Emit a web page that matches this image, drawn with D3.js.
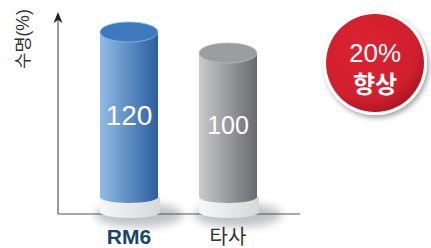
<!DOCTYPE html>
<html>
<head>
<meta charset="utf-8">
<script src="https://cdn.jsdelivr.net/npm/d3@7"></script>
<style>
  body { margin: 0; background: #fff; }
  svg { display: block; }
  text { font-family: "Liberation Sans", "Noto Sans CJK KR", sans-serif; }
</style>
</head>
<body>
<div id="chart"></div>
<script>
// chart values
const categories = ["RM6", "타사"];
const values = [120, 100];
const yLabel = "수명(%)";
const badgeLines = ["20%", "향상"];

const W = 431, H = 248;
const axisX = 58, axisY = 214, axisTop = 12, axisRight = 300;
const baseTop = 197;        // where the cylinder bodies end
const rx = 29, ryTop = 10, ryBase = 6;

const svg = d3.select("#chart").append("svg")
    .attr("width", W)
    .attr("height", H);

const defs = svg.append("defs");

// gradients for the cylinder sides
function sideGrad(id, c0, c1) {
  const g = defs.append("linearGradient").attr("id", id)
      .attr("x1", "0%").attr("x2", "100%");
  g.append("stop").attr("offset", "0%").attr("stop-color", c0);
  g.append("stop").attr("offset", "100%").attr("stop-color", c1);
}
sideGrad("blueSide", "#8fbbe4", "#2c5e9f");
sideGrad("graySide", "#c9cacc", "#686a6d");
sideGrad("baseSide", "#f6f7f8", "#d6d8da");

const shadow = defs.append("filter").attr("id", "blur")
    .attr("x", "-50%").attr("y", "-50%").attr("width", "200%").attr("height", "200%");
shadow.append("feGaussianBlur").attr("stdDeviation", 4);

const badgeShadow = defs.append("filter").attr("id", "badgeShadow")
    .attr("x", "-30%").attr("y", "-30%").attr("width", "160%").attr("height", "160%");
badgeShadow.append("feDropShadow")
    .attr("dx", 2).attr("dy", 3).attr("stdDeviation", 2.5)
    .attr("flood-color", "#000").attr("flood-opacity", 0.35);

const redGrad = defs.append("radialGradient").attr("id", "redFill")
    .attr("cx", "40%").attr("cy", "35%").attr("r", "70%");
redGrad.append("stop").attr("offset", "0%").attr("stop-color", "#dc2331");
redGrad.append("stop").attr("offset", "75%").attr("stop-color", "#d01f2d");
redGrad.append("stop").attr("offset", "100%").attr("stop-color", "#a8141f");

// scales
const x = d3.scalePoint().domain(categories).range([129, 228]);
const y = d3.scaleLinear().domain([0, 120]).range([158, 32]);

const sideColors = ["url(#blueSide)", "url(#graySide)"];
const topColors = ["#3e78bd", "#9c9da0"];
const rimColors = ["#7fc0ee", "#b9babc"];
const catColors = ["#1b4566", "#333333"];
const catWeights = ["bold", "normal"];
const catSizes = [21, 20];
const labelSizes = [28, 25];

// shadows under the bases
svg.selectAll(".shadow")
    .data(categories)
  .enter().append("ellipse")
    .attr("class", "shadow")
    .attr("cx", d => x(d) + 10)
    .attr("cy", axisY + 1)
    .attr("rx", 44)
    .attr("ry", 12)
    .attr("fill", "#b3b4b6")
    .attr("opacity", 0.8)
    .attr("filter", "url(#blur)");

// axes
svg.append("line")
    .attr("x1", axisX).attr("y1", axisY)
    .attr("x2", axisRight).attr("y2", axisY)
    .attr("stroke", "#555").attr("stroke-width", 1.2);

svg.append("line")
    .attr("x1", axisX).attr("y1", axisY)
    .attr("x2", axisX).attr("y2", axisTop + 6)
    .attr("stroke", "#555").attr("stroke-width", 1.2);

svg.append("path")
    .attr("d", `M${axisX},${axisTop} L${axisX + 4.5},${axisTop + 11} L${axisX},${axisTop + 8} L${axisX - 4.5},${axisTop + 11} Z`)
    .attr("fill", "#222");

svg.append("text")
    .attr("transform", `translate(29,${axisTop + 27}) rotate(-90)`)
    .attr("text-anchor", "middle")
    .attr("font-family", "Noto Sans CJK KR")
    .attr("font-size", 17.5)
    .attr("fill", "#333")
    .text(yLabel);

// cylinders
const bars = svg.selectAll(".bar")
    .data(categories)
  .enter().append("g")
    .attr("class", "bar");

// white base
bars.append("path")
    .attr("d", d => {
      const cx = x(d) + 1, r = rx + 1, b = baseTop + 15;
      return `M${cx - r},${baseTop} L${cx - r},${b} A${r},${ryBase} 0 0 0 ${cx + r},${b} L${cx + r},${baseTop} Z`;
    })
    .attr("fill", "url(#baseSide)");

// body
bars.append("path")
    .attr("d", (d, i) => {
      const cx = x(d), t = y(values[i]);
      return `M${cx - rx},${t} L${cx - rx},${baseTop} A${rx},${ryBase} 0 0 0 ${cx + rx},${baseTop} L${cx + rx},${t} Z`;
    })
    .attr("fill", (d, i) => sideColors[i]);

// top face
bars.append("ellipse")
    .attr("cx", d => x(d))
    .attr("cy", (d, i) => y(values[i]))
    .attr("rx", rx)
    .attr("ry", ryTop)
    .attr("fill", (d, i) => topColors[i])
    .attr("stroke", (d, i) => rimColors[i])
    .attr("stroke-width", 0.8);

// values inside
bars.append("text")
    .attr("x", d => x(d))
    .attr("y", (d, i) => (y(values[i]) + baseTop) / 2)
    .attr("dy", "0.36em")
    .attr("text-anchor", "middle")
    .attr("font-size", (d, i) => labelSizes[i])
    .attr("fill", "#fff")
    .text((d, i) => values[i]);

// category labels
bars.append("text")
    .attr("x", d => x(d))
    .attr("y", 244)
    .attr("text-anchor", "middle")
    .attr("font-size", (d, i) => catSizes[i])
    .attr("font-weight", (d, i) => catWeights[i])
    .attr("fill", (d, i) => catColors[i])
    .text(d => d);

// badge
const badge = svg.append("g").attr("transform", "translate(375,63)");
badge.append("circle")
    .attr("r", 52)
    .attr("fill", "#fff")
    .attr("filter", "url(#badgeShadow)");
badge.append("circle")
    .attr("r", 49)
    .attr("fill", "url(#redFill)");
badge.selectAll(".badge-text")
    .data(badgeLines)
  .enter().append("text")
    .attr("class", "badge-text")
    .attr("x", 0)
    .attr("y", (d, i) => i === 0 ? -10 : 21)
    .attr("dy", "0.36em")
    .attr("text-anchor", "middle")
    .attr("font-size", (d, i) => i === 0 ? 26 : 24)
    .attr("font-family", (d, i) => i === 0 ? "Liberation Sans" : "Noto Sans CJK KR")
    .attr("font-weight", (d, i) => i === 0 ? "normal" : "bold")
    .attr("fill", "#fff")
    .text(d => d);
</script>
</body>
</html>
